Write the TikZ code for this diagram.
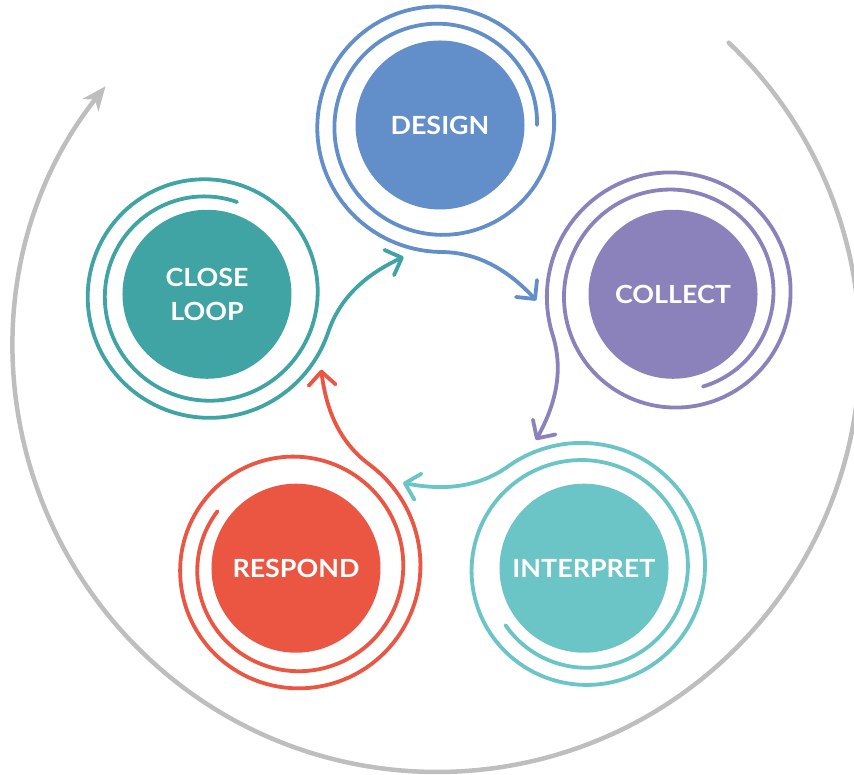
\documentclass[tikz,border=0pt]{standalone}
\usepackage{fontspec}
\setmainfont{Lato}[FakeStretch=1.075]
\usetikzlibrary{arrows.meta,calc}
\definecolor{cDesign}{RGB}{98,142,201}
\definecolor{cCollect}{RGB}{139,129,187}
\definecolor{cInterp}{RGB}{107,196,197}
\definecolor{cRespond}{RGB}{235,86,66}
\definecolor{cClose}{RGB}{64,163,164}
\definecolor{cGray}{RGB}{190,190,190}
\tikzset{
  stage/.style={circle, minimum size=169pt, inner sep=0pt, text=white,
    font=\fontsize{25}{34}\selectfont\bfseries, align=center},
  ring/.style={line width=3.8pt, line cap=round, line join=round},
}
\newcommand\spiralunit[3]{%
  \begin{scope}[shift={(#1.center)}, rotate=#2]
    \draw[ring, #3] plot[domain=0:630, samples=220, variable=\t]
      ({(97+0.0476*\t)*cos(\t)}, {(97+0.0476*\t)*sin(\t)})
      .. controls (40,-127) and (70,-147) .. (95,-174);
    \draw[ring, #3] (97,-155) -- (95,-174) -- (76,-172);
  \end{scope}}
\begin{document}
\begin{tikzpicture}[x=1pt,y=1pt]
  \useasboundingbox (0,0) rectangle (854,775);
  \clip (0,0) rectangle (854,775);
  \coordinate (O) at (440,405);
  \coordinate (G) at (437,426);
  \draw[cGray, line width=4.5pt, line cap=round,
        -{Stealth[length=24pt,width=20pt,inset=7pt]}]
    ($(G)+(46.4:423)$) arc[start angle=46.4, end angle=-218.4, radius=423];
  \node[stage, fill=cDesign]  (design)    at ($(O)+(90:245)$)   {DESIGN};
  \node[stage, fill=cCollect] (collect)   at ($(O)+(18:245)$)   {COLLECT};
  \node[stage, fill=cInterp]  (interpret) at ($(O)+(-54:245)$)  {INTERPRET};
  \node[stage, fill=cRespond] (respond)   at ($(O)+(-126:245)$) {RESPOND};
  \node[stage, fill=cClose]   (close)     at ($(O)+(162:245)$)  {CLOSE\\LOOP};
  \spiralunit{design}{0}{cDesign}
  \spiralunit{collect}{-72}{cCollect}
  \spiralunit{interpret}{-144}{cInterp}
  \spiralunit{respond}{-216}{cRespond}
  \spiralunit{close}{-288}{cClose}
\end{tikzpicture}
\end{document}
